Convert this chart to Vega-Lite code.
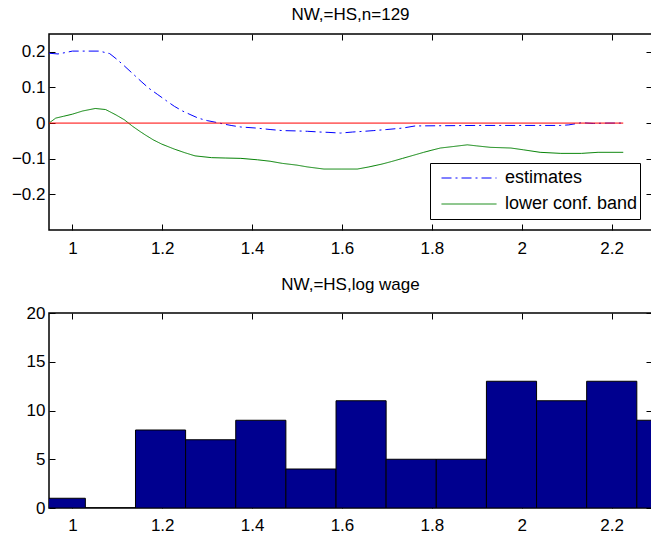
{
  "$schema": "https://vega.github.io/schema/vega-lite/v6.json",
  "padding": {"left": 10, "top": 4, "right": 0, "bottom": 0},
  "bounds": "flush",
  "spacing": 83,
  "background": "white",
  "datasets": {
    "curves": [
      {"x": 0.948, "y": 0.196, "series": "estimates"},
      {"x": 0.968, "y": 0.194, "series": "estimates"},
      {"x": 0.985, "y": 0.198, "series": "estimates"},
      {"x": 1.0, "y": 0.202, "series": "estimates"},
      {"x": 1.03, "y": 0.202, "series": "estimates"},
      {"x": 1.06, "y": 0.202, "series": "estimates"},
      {"x": 1.083, "y": 0.195, "series": "estimates"},
      {"x": 1.1, "y": 0.178, "series": "estimates"},
      {"x": 1.116, "y": 0.16, "series": "estimates"},
      {"x": 1.135, "y": 0.138, "series": "estimates"},
      {"x": 1.153, "y": 0.117, "series": "estimates"},
      {"x": 1.17, "y": 0.098, "series": "estimates"},
      {"x": 1.19, "y": 0.08, "series": "estimates"},
      {"x": 1.21, "y": 0.062, "series": "estimates"},
      {"x": 1.227, "y": 0.047, "series": "estimates"},
      {"x": 1.245, "y": 0.034, "series": "estimates"},
      {"x": 1.264, "y": 0.023, "series": "estimates"},
      {"x": 1.28, "y": 0.014, "series": "estimates"},
      {"x": 1.3, "y": 0.007, "series": "estimates"},
      {"x": 1.32, "y": 0.002, "series": "estimates"},
      {"x": 1.338, "y": -0.003, "series": "estimates"},
      {"x": 1.355, "y": -0.007, "series": "estimates"},
      {"x": 1.375, "y": -0.011, "series": "estimates"},
      {"x": 1.41, "y": -0.014, "series": "estimates"},
      {"x": 1.44, "y": -0.018, "series": "estimates"},
      {"x": 1.467, "y": -0.021, "series": "estimates"},
      {"x": 1.5, "y": -0.022, "series": "estimates"},
      {"x": 1.523, "y": -0.023, "series": "estimates"},
      {"x": 1.55, "y": -0.025, "series": "estimates"},
      {"x": 1.569, "y": -0.026, "series": "estimates"},
      {"x": 1.597, "y": -0.028, "series": "estimates"},
      {"x": 1.624, "y": -0.025, "series": "estimates"},
      {"x": 1.65, "y": -0.023, "series": "estimates"},
      {"x": 1.671, "y": -0.021, "series": "estimates"},
      {"x": 1.7, "y": -0.018, "series": "estimates"},
      {"x": 1.735, "y": -0.014, "series": "estimates"},
      {"x": 1.763, "y": -0.008, "series": "estimates"},
      {"x": 1.81, "y": -0.0075, "series": "estimates"},
      {"x": 1.86, "y": -0.007, "series": "estimates"},
      {"x": 1.902, "y": -0.0066, "series": "estimates"},
      {"x": 1.95, "y": -0.0066, "series": "estimates"},
      {"x": 1.994, "y": -0.0066, "series": "estimates"},
      {"x": 2.04, "y": -0.0066, "series": "estimates"},
      {"x": 2.087, "y": -0.0066, "series": "estimates"},
      {"x": 2.105, "y": -0.005, "series": "estimates"},
      {"x": 2.133, "y": 0.001, "series": "estimates"},
      {"x": 2.16, "y": -0.001, "series": "estimates"},
      {"x": 2.19, "y": 0.0, "series": "estimates"},
      {"x": 2.226, "y": 0.0, "series": "estimates"},
      {"x": 0.948, "y": 0.0, "series": "lower conf. band"},
      {"x": 0.963, "y": 0.014, "series": "lower conf. band"},
      {"x": 0.98, "y": 0.019, "series": "lower conf. band"},
      {"x": 1.0, "y": 0.025, "series": "lower conf. band"},
      {"x": 1.023, "y": 0.034, "series": "lower conf. band"},
      {"x": 1.051, "y": 0.041, "series": "lower conf. band"},
      {"x": 1.074, "y": 0.038, "series": "lower conf. band"},
      {"x": 1.097, "y": 0.023, "series": "lower conf. band"},
      {"x": 1.116, "y": 0.009, "series": "lower conf. band"},
      {"x": 1.134, "y": -0.009, "series": "lower conf. band"},
      {"x": 1.15, "y": -0.023, "series": "lower conf. band"},
      {"x": 1.162, "y": -0.033, "series": "lower conf. band"},
      {"x": 1.18, "y": -0.047, "series": "lower conf. band"},
      {"x": 1.199, "y": -0.059, "series": "lower conf. band"},
      {"x": 1.227, "y": -0.073, "series": "lower conf. band"},
      {"x": 1.25, "y": -0.083, "series": "lower conf. band"},
      {"x": 1.273, "y": -0.092, "series": "lower conf. band"},
      {"x": 1.31, "y": -0.097, "series": "lower conf. band"},
      {"x": 1.34, "y": -0.098, "series": "lower conf. band"},
      {"x": 1.375, "y": -0.099, "series": "lower conf. band"},
      {"x": 1.412, "y": -0.103, "series": "lower conf. band"},
      {"x": 1.44, "y": -0.107, "series": "lower conf. band"},
      {"x": 1.467, "y": -0.113, "series": "lower conf. band"},
      {"x": 1.5, "y": -0.118, "series": "lower conf. band"},
      {"x": 1.523, "y": -0.123, "series": "lower conf. band"},
      {"x": 1.56, "y": -0.129, "series": "lower conf. band"},
      {"x": 1.6, "y": -0.129, "series": "lower conf. band"},
      {"x": 1.634, "y": -0.129, "series": "lower conf. band"},
      {"x": 1.66, "y": -0.123, "series": "lower conf. band"},
      {"x": 1.689, "y": -0.115, "series": "lower conf. band"},
      {"x": 1.71, "y": -0.108, "series": "lower conf. band"},
      {"x": 1.735, "y": -0.099, "series": "lower conf. band"},
      {"x": 1.76, "y": -0.09, "series": "lower conf. band"},
      {"x": 1.782, "y": -0.082, "series": "lower conf. band"},
      {"x": 1.8, "y": -0.076, "series": "lower conf. band"},
      {"x": 1.819, "y": -0.07, "series": "lower conf. band"},
      {"x": 1.846, "y": -0.066, "series": "lower conf. band"},
      {"x": 1.879, "y": -0.061, "series": "lower conf. band"},
      {"x": 1.9, "y": -0.064, "series": "lower conf. band"},
      {"x": 1.93, "y": -0.068, "series": "lower conf. band"},
      {"x": 1.976, "y": -0.07, "series": "lower conf. band"},
      {"x": 2.004, "y": -0.075, "series": "lower conf. band"},
      {"x": 2.041, "y": -0.082, "series": "lower conf. band"},
      {"x": 2.087, "y": -0.085, "series": "lower conf. band"},
      {"x": 2.133, "y": -0.085, "series": "lower conf. band"},
      {"x": 2.17, "y": -0.082, "series": "lower conf. band"},
      {"x": 2.226, "y": -0.082, "series": "lower conf. band"}
    ],
    "zero": [
      {"x": 0.948, "y": 0},
      {"x": 2.226, "y": 0}
    ],
    "bins": [
      {"x0": 0.9173, "x1": 1.0289, "count": 1},
      {"x0": 1.0289, "x1": 1.1405, "count": 0},
      {"x0": 1.1405, "x1": 1.252, "count": 8},
      {"x0": 1.252, "x1": 1.3636, "count": 7},
      {"x0": 1.3636, "x1": 1.4752, "count": 9},
      {"x0": 1.4752, "x1": 1.5868, "count": 4},
      {"x0": 1.5868, "x1": 1.6983, "count": 11},
      {"x0": 1.6983, "x1": 1.8099, "count": 5},
      {"x0": 1.8099, "x1": 1.9215, "count": 5},
      {"x0": 1.9215, "x1": 2.0331, "count": 13},
      {"x0": 2.0331, "x1": 2.1446, "count": 11},
      {"x0": 2.1446, "x1": 2.2562, "count": 13},
      {"x0": 2.2562, "x1": 2.3678, "count": 9}
    ]
  },
  "vconcat": [
    {
      "width": 603,
      "height": 196,
      "title": {"text": "NW,=HS,n=129"},
      "layer": [
        {
          "data": {"name": "curves"},
          "mark": {"type": "line", "strokeWidth": 1, "clip": true},
          "encoding": {
            "x": {"field": "x", "type": "quantitative",
              "scale": {"domain": [0.948, 2.29], "nice": false, "zero": false},
              "axis": {"orient": "bottom", "values": [1, 1.2, 1.4, 1.6, 1.8, 2, 2.2], "format": "~g", "labelPadding": 16}},
            "y": {"field": "y", "type": "quantitative",
              "scale": {"domain": [-0.3, 0.25], "nice": false, "zero": false},
              "axis": {"orient": "left", "values": [-0.2, -0.1, 0, 0.1, 0.2], "format": "~g", "labelPadding": 10}},
            "color": {"field": "series", "type": "nominal",
              "scale": {"domain": ["estimates", "lower conf. band"], "range": ["#0000FF", "#008000"]},
              "legend": {"title": null, "orient": "none", "legendX": 381, "legendY": 129}},
            "strokeDash": {"field": "series", "type": "nominal",
              "scale": {"domain": ["estimates", "lower conf. band"], "range": [[10, 4, 2, 4], [1, 0]]},
              "legend": {"title": null, "orient": "none", "legendX": 381, "legendY": 129}}
          }
        },
        {
          "data": {"name": "zero"},
          "mark": {"type": "line", "color": "#FF0000", "strokeWidth": 1},
          "encoding": {
            "x": {"field": "x", "type": "quantitative",
              "axis": {"orient": "top", "values": [1, 1.2, 1.4, 1.6, 1.8, 2, 2.2], "labels": false}},
            "y": {"field": "y", "type": "quantitative",
              "axis": {"orient": "right", "values": [-0.2, -0.1, 0, 0.1, 0.2], "labels": false}}
          }
        }
      ],
      "resolve": {"axis": {"x": "independent", "y": "independent"}}
    },
    {
      "width": 603,
      "height": 195,
      "title": {"text": "NW,=HS,log wage"},
      "layer": [
        {
          "data": {"name": "bins"},
          "mark": {"type": "bar", "clip": true, "fill": "#00008F", "stroke": "#000000", "strokeWidth": 1},
          "encoding": {
            "x": {"field": "x0", "type": "quantitative",
              "scale": {"domain": [0.948, 2.29], "nice": false, "zero": false},
              "axis": {"orient": "bottom", "values": [1, 1.2, 1.4, 1.6, 1.8, 2, 2.2], "format": "~g", "labelPadding": 15}},
            "x2": {"field": "x1"},
            "y": {"field": "count", "type": "quantitative",
              "scale": {"domain": [0, 20], "nice": false},
              "axis": {"orient": "left", "values": [0, 5, 10, 15, 20], "format": "~g", "labelPadding": 10}},
            "y2": {"datum": 0}
          }
        },
        {
          "data": {"name": "bins"},
          "transform": [{"filter": "false"}],
          "mark": {"type": "bar"},
          "encoding": {
            "x": {"field": "x0", "type": "quantitative",
              "axis": {"orient": "top", "values": [1, 1.2, 1.4, 1.6, 1.8, 2, 2.2], "labels": false}},
            "x2": {"field": "x1"},
            "y": {"field": "count", "type": "quantitative",
              "axis": {"orient": "right", "values": [0, 5, 10, 15, 20], "labels": false}},
            "y2": {"datum": 0}
          }
        }
      ],
      "resolve": {"axis": {"x": "independent", "y": "independent"}}
    }
  ],
  "config": {
    "font": "Liberation Sans",
    "view": {"stroke": "#000000", "strokeWidth": 1.5},
    "title": {"fontSize": 17, "fontWeight": "normal", "color": "#000000", "font": "Liberation Sans", "offset": 10, "baseline": "bottom", "anchor": "middle"},
    "axis": {
      "grid": false,
      "domain": false,
      "ticks": true,
      "tickSize": -6,
      "tickColor": "#000000",
      "tickWidth": 1,
      "labelFontSize": 17,
      "labelColor": "#000000",
      "labelFont": "Liberation Sans",
      "title": null
    },
    "legend": {
      "fillColor": "#FFFFFF",
      "strokeColor": "#000000",
      "padding": 2,
      "symbolType": "stroke",
      "symbolSize": 3025,
      "symbolStrokeWidth": 1,
      "symbolOffset": 9,
      "labelOffset": 8,
      "labelFontSize": 18,
      "labelFont": "Liberation Sans",
      "labelColor": "#000000",
      "clipHeight": 26,
      "rowPadding": 0
    }
  }
}
